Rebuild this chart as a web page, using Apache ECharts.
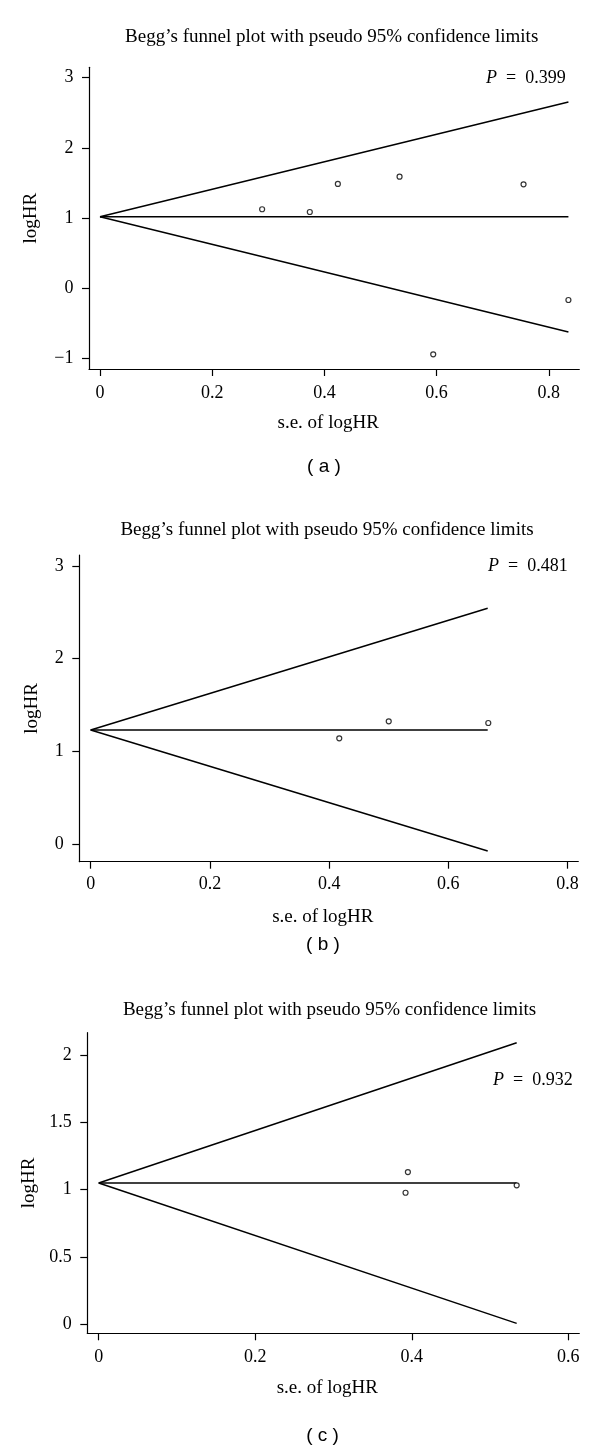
<!DOCTYPE html>
<html>
<head>
<meta charset="utf-8">
<script src="https://cdn.jsdelivr.net/npm/echarts@6/dist/echarts.min.js"></script>
<style>
html,body{margin:0;padding:0;background:#fff;}
#chart{width:600px;height:1451px;}
</style>
</head>
<body>
<div id="chart"></div>
<script>
// ---------- data ----------
// Panel (a)
const seA = [0.289, 0.374, 0.424, 0.534, 0.594, 0.755, 0.835];
const lhA = [1.123, 1.084, 1.484, 1.588, -0.946, 1.479, -0.171];
const funnelSeA = [0, 0.835];
const upperA = [1.017, 2.653];
const midA = [1.017, 1.017];
const lowerA = [1.017, -0.628];
const xTicksA = [0, 0.2, 0.4, 0.6, 0.8];
const yTicksA = [-1, 0, 1, 2, 3];
const pA = 'P = 0.399';

// Panel (b)
const seB = [0.417, 0.500, 0.667];
const lhB = [1.142, 1.325, 1.307];
const funnelSeB = [0, 0.666];
const upperB = [1.232, 2.543];
const midB = [1.232, 1.232];
const lowerB = [1.232, -0.072];
const xTicksB = [0, 0.2, 0.4, 0.6, 0.8];
const yTicksB = [0, 1, 2, 3];
const pB = 'P = 0.481';

// Panel (c)
const seC = [0.395, 0.392, 0.534];
const lhC = [1.130, 0.976, 1.031];
const funnelSeC = [0, 0.534];
const upperC = [1.048, 2.091];
const midC = [1.048, 1.048];
const lowerC = [1.048, 0.005];
const xTicksC = [0, 0.2, 0.4, 0.6];
const yTicksC = [0, 0.5, 1, 1.5, 2];
const pC = 'P = 0.932';

const titleText = 'Begg\u2019s funnel plot with pseudo 95% confidence limits';
const xName = 's.e. of logHR';
const yName = 'logHR';
const subLabels = ['( a )', '( b )', '( c )'];

// ---------- layout ----------
const SERIF = "'Liberation Serif','Times New Roman',serif";
const SANS = "'Liberation Sans',Arial,sans-serif";

const panels = [
  {se: seA, lh: lhA, fse: funnelSeA, up: upperA, mid: midA, lo: lowerA, xt: xTicksA, yt: yTicksA, p: pA,
   grid: {left: 89, top: 67.3, width: 490.3, height: 301.7},
   xr: [-0.0196, 0.8544], yr: [-1.1555, 3.148], xMargin: 15, xGap: 45, yGap: 48,
   title: [331.7, 37.3], pPos: [565.7, 78.3], sub: [324, 467]},
  {se: seB, lh: lhB, fse: funnelSeB, up: upperB, mid: midB, lo: lowerB, xt: xTicksB, yt: yTicksB, p: pB,
   grid: {left: 79.3, top: 555, width: 499, height: 306.7},
   xr: [-0.0191, 0.818], yr: [-0.1875, 3.117], xMargin: 14, xGap: 45.5, yGap: 37.5,
   title: [327, 529.6], pPos: [567.7, 566.7], sub: [323, 945]},
  {se: seC, lh: lhC, fse: funnelSeC, up: upperC, mid: midC, lo: lowerC, xt: xTicksC, yt: yTicksC, p: pC,
   grid: {left: 87.3, top: 1032.7, width: 492, height: 300.6},
   xr: [-0.0146, 0.614], yr: [-0.069, 2.166], xMargin: 15, xGap: 45.5, yGap: 47,
   title: [329.5, 1010], pPos: [572.7, 1080.7], sub: [322.5, 1436]}
];

const fmt = v => String(v).replace('-', '\u2212');
const axisLine = {show: true, onZero: false, lineStyle: {color: '#000', width: 1.2}};
const axisTickBase = {show: true, length: 7, lineStyle: {color: '#000', width: 1.2}};

const grids = [], xAxes = [], yAxes = [], series = [], graphics = [];

panels.forEach((pn, i) => {
  grids.push(Object.assign({containLabel: false, outerBoundsMode: 'none'}, pn.grid));
  xAxes.push({
    type: 'value', gridIndex: i, min: pn.xr[0], max: pn.xr[1],
    axisLine: axisLine,
    axisTick: Object.assign({customValues: pn.xt}, axisTickBase),
    axisLabel: {customValues: pn.xt, formatter: fmt, color: '#000', fontFamily: SERIF, fontSize: 18, margin: pn.xMargin},
    splitLine: {show: false},
    name: xName, nameLocation: 'middle', nameGap: pn.xGap,
    nameTextStyle: {color: '#000', fontFamily: SERIF, fontSize: 19, padding: [0, 12, 0, 0]}
  });
  yAxes.push({
    type: 'value', gridIndex: i, min: pn.yr[0], max: pn.yr[1],
    axisLine: axisLine,
    axisTick: Object.assign({customValues: pn.yt}, axisTickBase),
    axisLabel: {customValues: pn.yt, formatter: fmt, color: '#000', fontFamily: SERIF, fontSize: 18, margin: 15.5},
    splitLine: {show: false},
    name: yName, nameLocation: 'middle', nameGap: pn.yGap, nameRotate: 90,
    nameTextStyle: {color: '#000', fontFamily: SERIF, fontSize: 19}
  });
  [pn.up, pn.mid, pn.lo].forEach(arr => {
    series.push({
      type: 'line', xAxisIndex: i, yAxisIndex: i, symbol: 'none', silent: true,
      lineStyle: {color: '#000', width: 1.5},
      data: pn.fse.map((s, k) => [s, arr[k]]), z: 2
    });
  });
  series.push({
    type: 'scatter', xAxisIndex: i, yAxisIndex: i, symbol: 'circle', symbolSize: 5,
    itemStyle: {color: '#fff', borderColor: '#000', borderWidth: 1.2},
    data: pn.se.map((s, k) => [s, pn.lh[k]]), z: 3
  });
  graphics.push({
    type: 'text', x: pn.title[0], y: pn.title[1], silent: true,
    style: {text: titleText, fill: '#000', fontFamily: SERIF, fontSize: 19, align: 'center', verticalAlign: 'middle'}
  });
  const pParts = pn.p.split(' = ');
  graphics.push({
    type: 'text', x: pn.pPos[0], y: pn.pPos[1], silent: true,
    style: {
      text: '{i|' + pParts[0] + '}{n|\u2002=\u2002' + pParts[1] + '}',
      fill: '#000', fontFamily: SERIF, fontSize: 18, align: 'right', verticalAlign: 'middle',
      rich: {
        i: {fontFamily: SERIF, fontSize: 18, fontStyle: 'italic', fill: '#000'},
        n: {fontFamily: SERIF, fontSize: 18, fill: '#000'}
      }
    }
  });
  graphics.push({
    type: 'text', x: pn.sub[0], y: pn.sub[1], silent: true,
    style: {text: subLabels[i], fill: '#000', fontFamily: SANS, fontSize: 19, align: 'center', verticalAlign: 'middle'}
  });
});

const chart = echarts.init(document.getElementById('chart'), null, {renderer: 'canvas'});
chart.setOption({
  backgroundColor: '#fff',
  animation: false,
  grid: grids,
  xAxis: xAxes,
  yAxis: yAxes,
  series: series,
  graphic: graphics
});
</script>
</body>
</html>
